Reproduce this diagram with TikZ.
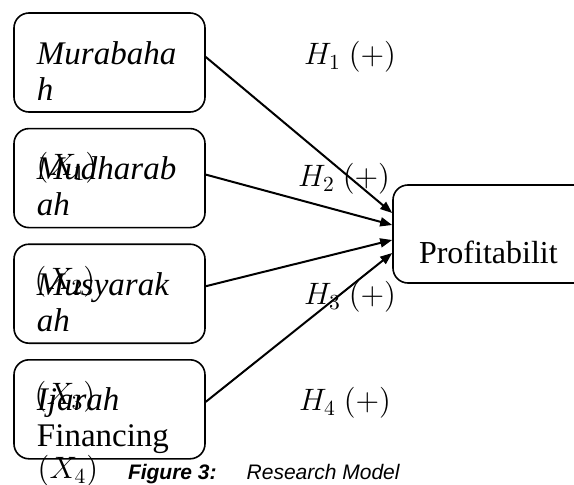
\documentclass[tikz,border=0pt]{standalone}
\usepackage{fontspec}
\setmainfont{Liberation Serif}
\setsansfont{Liberation Sans}
\usepackage{graphicx}
\usepackage{tikz}
\usetikzlibrary{positioning,arrows.meta,calc}
\tikzstyle{vb}=[%
      rectangle, rounded corners=15pt, draw=black, line width=1.6pt, fill=none,
      text width=145pt, align=left, inner xsep=23pt, inner ysep=10pt,
      text height=41pt, text depth=38pt,
      font=\fontsize{33pt}{36pt}\selectfont\itshape
]
\tikzstyle{dv}=[%
      rectangle, rounded corners=15pt, draw=black, line width=1.6pt, fill=none,
      text width=145pt, align=left, inner xsep=26pt, inner ysep=10pt,
      text height=68pt, text depth=10pt,
      font=\fontsize{32pt}{35pt}\selectfont
]
\tikzstyle{hy}=[%
      inner sep=0pt, font=\fontsize{14.4pt}{17pt}\selectfont
]
\newcommand{\hyp}[1]{\scalebox{2.15}{$H_{#1}\ (+)$}}
\newcommand{\xvar}[1]{\scalebox{2.15}{$(X_{#1})$}}

\begin{document}
\begin{tikzpicture}[auto,
    -{Triangle[length=12pt,width=9pt]},
    line width=2pt,
    node distance=15pt
  ]
    \useasboundingbox (0,0) rectangle (574pt,-485pt);

    \node[vb] (mur) at (109.5pt,-62.5pt) {Murabaha\\h};
    \node[vb] (mud) [below = of mur] {Mudharab\\ah};
    \node[vb] (mus) [below = of mud] {Musyarak\\ah};
    \node[vb] (ija) [below = of mus] {Ijarah\\\upshape Financing};
    \node[dv] (prof) at (491.5pt,-234pt) {Profitabilit};

    \node[hy] (x1) at (67pt,-168pt) {\xvar{1}};
    \node[hy] (x2) at (65pt,-282pt) {\xvar{2}};
    \node[hy] (x3) at (65pt,-397pt) {\xvar{3}};
    \node[hy] (x4) at (68pt,-471pt) {\xvar{4}};

    \node[hy] (h1) at (350pt,-57pt)  {\hyp{1}};
    \node[hy] (h2) at (344pt,-179pt) {\hyp{2}};
    \node[hy] (h3) at (350pt,-297pt) {\hyp{3}};
    \node[hy] (h4) at (345pt,-403pt) {\hyp{4}};

    \path ([yshift=5.5pt]mur.east) edge ([yshift=21pt]prof.west)
          ([yshift=3.5pt]mud.east) edge ([yshift=9pt]prof.west)
          ([yshift=7.5pt]mus.east) edge ([yshift=-6pt]prof.west)
          ([yshift=7.5pt]ija.east) edge ([yshift=-19pt]prof.west)
    ;

    \node[anchor=base west, inner sep=0pt, font=\sffamily\fontsize{21pt}{25pt}\selectfont]
      (cap) at (127pt,-479pt) {\textbf{\textit{Figure 3:}}\hspace{30pt}\textit{Research Model}};

  \end{tikzpicture}
\end{document}
